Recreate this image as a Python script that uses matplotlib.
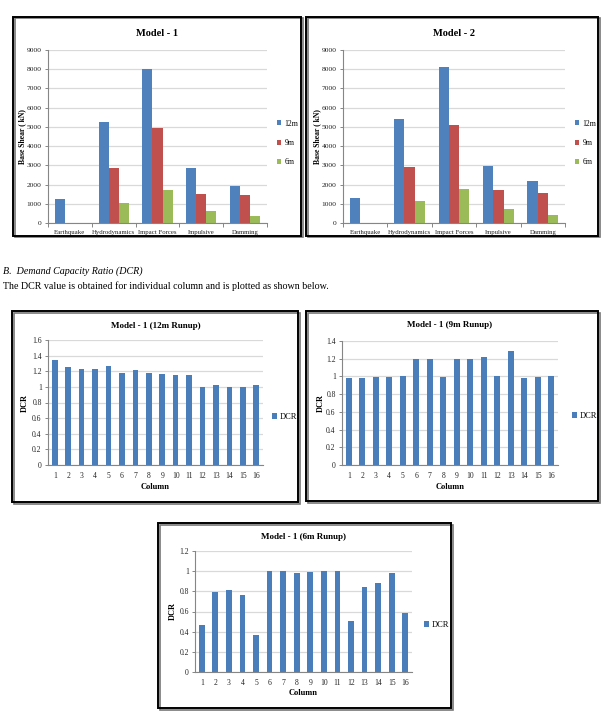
import numpy as np
import matplotlib
matplotlib.use('Agg')
import matplotlib.pyplot as plt
from matplotlib.patches import Rectangle

plt.rcParams['font.family'] = ['Liberation Serif', 'DejaVu Serif']

# base shear data (kN)
loads = ['Earthquake', 'Hydrodynamics', 'Impact Forces', 'Impulsive', 'Damming']
runups = ['12m', '9m', '6m']
m1_12 = [1270, 5240, 8030, 2870, 1920]
m1_9 = [0, 2840, 4930, 1520, 1480]
m1_6 = [0, 1060, 1710, 640, 370]
m2_12 = [1310, 5430, 8100, 2990, 2160]
m2_9 = [0, 2900, 5090, 1730, 1560]
m2_6 = [0, 1120, 1760, 730, 410]

# demand capacity ratio per column
cols = list(range(1, 17))
dcr_12 = [1.35, 1.26, 1.23, 1.23, 1.27, 1.18, 1.21, 1.18, 1.17, 1.155, 1.155, 1.0, 1.02, 1.0, 1.0, 1.03]
dcr_9 = [0.98, 0.98, 0.99, 0.99, 1.0, 1.2, 1.2, 0.99, 1.2, 1.2, 1.22, 1.0, 1.29, 0.98, 0.99, 1.0]
dcr_6 = [0.47, 0.795, 0.81, 0.76, 0.37, 1.0, 1.0, 0.98, 0.99, 1.0, 1.0, 0.51, 0.84, 0.88, 0.98, 0.59]

W, H = 606, 717
colors = ['#4F81BD', '#C0504D', '#9BBB59']
grid_c = '#d9d9d9'
axis_c = '#868686'

fig = plt.figure(figsize=(W / 100, H / 100), dpi=100)


def add_ax(x0, y0, x1, y1):
    return fig.add_axes([x0 / W, 1 - y1 / H, (x1 - x0) / W, (y1 - y0) / H])


def box(x0, y0, x1, y1):
    # shadow then frame
    fig.patches.append(Rectangle(((x0 + 1.5) / W, 1 - (y1 + 1.5) / H), (x1 - x0) / W, (y1 - y0) / H,
                                 transform=fig.transFigure, fill=False, lw=1.2, ec='#777777'))
    fig.patches.append(Rectangle((x0 / W, 1 - y1 / H), (x1 - x0) / W, (y1 - y0) / H,
                                 transform=fig.transFigure, fill=False, lw=1.4, ec='black'))


def style(ax, size=5.5):
    for s in ['top', 'right']:
        ax.spines[s].set_visible(False)
    ax.spines['left'].set_color(axis_c)
    ax.spines['bottom'].set_color(axis_c)
    ax.spines['left'].set_linewidth(0.8)
    ax.spines['bottom'].set_linewidth(0.8)
    ax.yaxis.grid(True, color=grid_c, lw=0.9)
    ax.set_axisbelow(True)
    ax.tick_params(axis='both', colors=axis_c, labelcolor='#222222', labelsize=size, length=2.5, width=0.7)
    ax.tick_params(axis='y', pad=2)


def shear_chart(rect, title, s12, s9, s6, title_y, lab_x, leg_x):
    ax = add_ax(*rect)
    x = np.arange(1, len(loads) + 1)
    w = 0.23
    for i, (vals, c) in enumerate(zip([s12, s9, s6], colors)):
        ax.bar(x + (i - 1) * w, vals, w, color=c, label=runups[i])
    ax.set_xlim(0.5, len(loads) + 0.5)
    ax.set_ylim(0, 9000)
    ax.set_yticks(range(0, 9001, 1000))
    ax.set_xticks(x)
    ax.set_xticklabels(loads)
    ax.set_xticks(np.arange(0.5, len(loads) + 1, 1), minor=True)
    style(ax, 5.4)
    ax.tick_params(axis='x', which='major', length=0, pad=5, labelsize=4.9)
    ax.tick_params(axis='x', which='minor', length=3, colors=axis_c, width=0.7)
    fig.text((rect[0] + rect[2]) / 2 / W, 1 - title_y / H, title, ha='center', va='center',
             fontsize=7.5, fontweight='bold')
    fig.text(lab_x / W, 1 - (rect[1] + rect[3]) / 2 / H, 'Base Shear ( kN)', rotation=90,
             ha='center', va='center', fontsize=5.5, fontweight='bold')
    ax.legend(loc='center left', bbox_to_anchor=(leg_x / W, 1 - 143 / H), bbox_transform=fig.transFigure,
              frameon=False, fontsize=5.5, handlelength=0.6, handleheight=0.6, handletextpad=0.4,
              labelspacing=1.5, borderpad=0)


def dcr_chart(rect, title, vals, ymax, title_y, lab_x, leg_x, leg_y, xlab_y):
    ax = add_ax(*rect)
    ax.bar(cols, vals, 0.42, color='#4A7EBB', label='DCR')
    ax.set_xlim(0.5, len(cols) + 0.5)
    ax.set_ylim(0, ymax)
    ticks = np.round(np.arange(0, ymax + 0.01, 0.2), 1)
    ax.set_yticks(ticks)
    ax.set_yticklabels(['0' if v == 0 else ('1' if v == 1 else f'{v:.1f}') for v in ticks])
    ax.set_xticks(cols)
    style(ax)
    ax.tick_params(axis='x', length=0, pad=5)
    fig.text((rect[0] + rect[2]) / 2 / W, 1 - title_y / H, title, ha='center', va='center',
             fontsize=6.5, fontweight='bold')
    fig.text(lab_x / W, 1 - (rect[1] + rect[3]) / 2 / H, 'DCR', rotation=90,
             ha='center', va='center', fontsize=6, fontweight='bold')
    fig.text((rect[0] + rect[2]) / 2 / W, 1 - xlab_y / H, 'Column', ha='center', va='center',
             fontsize=6, fontweight='bold')
    ax.legend(loc='center left', bbox_to_anchor=(leg_x / W, 1 - leg_y / H), bbox_transform=fig.transFigure,
              frameon=False, fontsize=6, handlelength=0.6, handleheight=0.6, handletextpad=0.3,
              borderpad=0)


box(13, 17, 301, 236)
box(306, 17, 598, 236)
shear_chart((48, 50, 267, 223), 'Model - 1', m1_12, m1_9, m1_6, 33, 22, 273)
shear_chart((343, 50, 565, 223), 'Model - 2', m2_12, m2_9, m2_6, 33, 317, 571)

fig.text(3 / W, 1 - 271 / H, 'B.  Demand Capacity Ratio (DCR)', fontsize=7.2, style='italic', va='center')
fig.text(3 / W, 1 - 286 / H, 'The DCR value is obtained for individual column and is plotted as shown below.',
         fontsize=7.2, va='center')

box(12, 311, 298, 502)
box(306, 311, 598, 501)
box(158, 523, 451, 708)
dcr_chart((48, 340, 263, 465), 'Model - 1 (12m Runup)', dcr_12, 1.6, 326, 25, 268, 417, 487)
dcr_chart((342, 341, 558, 465), 'Model - 1 (9m Runup)', dcr_9, 1.4, 325, 321, 568, 416, 487)
dcr_chart((195, 551, 412, 672), 'Model - 1 (6m Runup)', dcr_6, 1.2, 537, 173, 420, 625, 693)

fig.savefig('out.png', dpi=100)
